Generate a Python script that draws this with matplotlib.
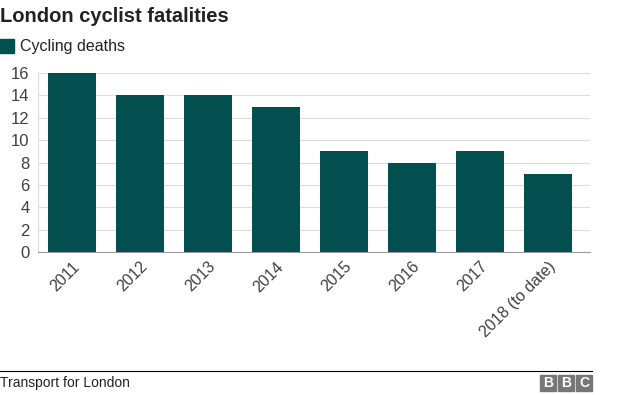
import numpy as np
import matplotlib.pyplot as plt
from matplotlib.patches import Rectangle

plt.rcParams['font.family'] = ['Liberation Sans', 'DejaVu Sans']

years = ['2011', '2012', '2013', '2014', '2015', '2016', '2017', '2018 (to date)']
deaths = [16, 14, 14, 13, 9, 8, 9, 7]

bar_color = '#034f4f'
text_color = '#404040'

fig = plt.figure(figsize=(6.24, 3.95), dpi=100)
ax = fig.add_axes([0.061, 0.362, 0.885, 0.453])

x = np.arange(len(years))
ax.bar(x, deaths, width=0.71, color=bar_color, zorder=3)

ax.set_xlim(-0.5, 7.62)
ax.set_ylim(0, 16)
ax.set_yticks(np.arange(0, 17, 2))
ax.yaxis.grid(True, color='#dddddd', linewidth=0.8, zorder=0)
ax.tick_params(axis='y', length=0, labelsize=12, colors=text_color, pad=6)
ax.tick_params(axis='x', length=0, labelsize=11.5, colors=text_color, pad=5)
ax.set_xticks(x)
ax.set_xticklabels(years, rotation=45, ha='right', rotation_mode='anchor')

for s in ['top', 'right']:
    ax.spines[s].set_visible(False)
ax.spines['left'].set_color('#dddddd')
ax.spines['bottom'].set_color('#999999')

# title and legend
fig.text(0.0, 0.957, 'London cyclist fatalities', fontsize=14.5, fontweight='bold',
         color='#222222', va='center', ha='left')
fig.patches.append(Rectangle((0.0, 1 - 53 / 395), 14 / 624, 14 / 395,
                             transform=fig.transFigure, color=bar_color))
fig.text(20 / 624, 1 - 46 / 395, 'Cycling deaths', fontsize=11.5, color='#222222',
         va='center', ha='left')

# footer
fig.add_artist(plt.Line2D([0, 592 / 624], [1 - 371 / 395] * 2,
                          transform=fig.transFigure, color='black', linewidth=0.8))
fig.text(0.0, 1 - 383 / 395, 'Transport for London', fontsize=10, color='#222222',
         va='center', ha='left')
for i, letter in enumerate('BBC'):
    x0 = (540 + i * 18) / 624
    fig.patches.append(Rectangle((x0, 1 - 391 / 395), 16 / 624, 16 / 395,
                                 transform=fig.transFigure, color='#777777'))
    fig.text(x0 + 8 / 624, 1 - 383 / 395, letter, fontsize=10, fontweight='bold',
             color='white', ha='center', va='center')

fig.savefig('out.png', dpi=100)
